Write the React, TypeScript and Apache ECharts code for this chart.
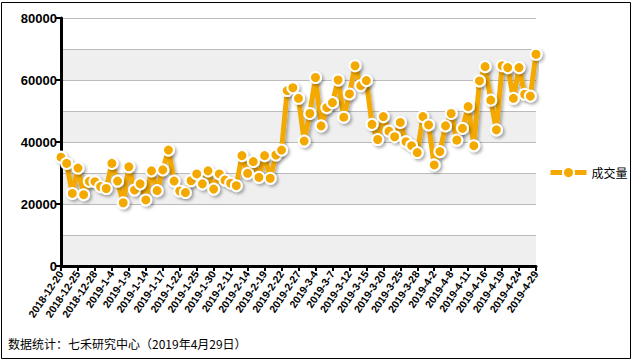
import React, { useEffect, useRef } from "react";
import * as echarts from "echarts";

const categories: string[] = [
  "2018-12-20", "2018-12-21", "2018-12-24", "2018-12-25", "2018-12-26", "2018-12-27", "2018-12-28",
  "2019-1-2", "2019-1-3", "2019-1-4", "2019-1-7", "2019-1-8", "2019-1-9", "2019-1-10", "2019-1-11",
  "2019-1-14", "2019-1-15", "2019-1-16", "2019-1-17", "2019-1-18", "2019-1-21", "2019-1-22", "2019-1-23",
  "2019-1-24", "2019-1-25", "2019-1-28", "2019-1-29", "2019-1-30", "2019-1-31", "2019-2-1",
  "2019-2-11", "2019-2-12", "2019-2-13", "2019-2-14", "2019-2-15", "2019-2-18", "2019-2-19", "2019-2-20",
  "2019-2-21", "2019-2-22", "2019-2-25", "2019-2-26", "2019-2-27", "2019-2-28", "2019-3-1",
  "2019-3-4", "2019-3-5", "2019-3-6", "2019-3-7", "2019-3-8", "2019-3-11", "2019-3-12", "2019-3-13",
  "2019-3-14", "2019-3-15", "2019-3-18", "2019-3-19", "2019-3-20", "2019-3-21", "2019-3-22", "2019-3-25",
  "2019-3-26", "2019-3-27", "2019-3-28", "2019-3-29", "2019-4-1", "2019-4-2", "2019-4-3", "2019-4-4",
  "2019-4-8", "2019-4-9", "2019-4-10", "2019-4-11", "2019-4-12", "2019-4-15", "2019-4-16", "2019-4-17",
  "2019-4-18", "2019-4-19", "2019-4-22", "2019-4-23", "2019-4-24", "2019-4-25", "2019-4-26", "2019-4-29",
];

const volume: number[] = [
  35100, 33100, 23400, 31600, 23000, 27300, 27200, 25600, 25000, 33100,
  27400, 20400, 32000, 24500, 26500, 21300, 30700, 24300, 31000, 37400,
  27400, 24200, 23700, 27500, 29700, 26500, 30700, 24800, 29700, 27700,
  26700, 25900, 35600, 29900, 33700, 28600, 35600, 28300, 35800, 37400,
  56600, 57500, 54100, 40300, 49200, 60800, 45200, 51100, 52700, 60000,
  48000, 55500, 64600, 58200, 59800, 45700, 40800, 48200, 43500, 41700,
  46300, 40100, 38800, 36600, 48200, 45500, 32600, 36900, 45200, 49200,
  40600, 44400, 51400, 38800, 59700, 64300, 53500, 43900, 64600, 64000,
  54100, 64000, 55400, 54800, 68300,
];

const seriesName = "成交量";
const footnote = "数据统计：七禾研究中心（2019年4月29日）";

export default function App() {
  const ref = useRef<HTMLDivElement>(null);
  useEffect(() => {
    if (!ref.current) return;
    const chart = echarts.init(ref.current, undefined, { renderer: "svg" });
    const orange = "#F4A900";
    chart.setOption({
      animation: false,
      backgroundColor: "#fff",
      textStyle: { fontFamily: "'Liberation Sans', Arial, sans-serif" },
      grid: { left: 61, right: 98, top: 18, bottom: 97, containLabel: false },
      legend: {
        left: 543,
        top: 161,
        itemWidth: 36,
        itemHeight: 14,
        itemGap: 4,
        lineStyle: { width: 5 },
        textStyle: { fontSize: 12, color: "#000", fontFamily: "'Noto Sans CJK SC', sans-serif" },
        data: [seriesName],
      },
      xAxis: {
        type: "category",
        data: categories,
        boundaryGap: false,
        axisLine: { lineStyle: { color: "#000", width: 3 } },
        axisTick: { interval: 2, length: 5, lineStyle: { color: "#000", width: 2 } },
        axisLabel: {
          interval: 2,
          rotate: 56,
          fontSize: 10.5,
          fontWeight: "bold",
          color: "#000",
          margin: 6,
        },
        splitLine: { show: false },
      },
      yAxis: [
        {
          type: "value",
          min: 0,
          max: 80000,
          interval: 10000,
          axisLine: { show: false },
          axisTick: { show: false },
          axisLabel: { show: false },
          splitLine: { show: true, lineStyle: { color: "#bbbbbb", width: 1 } },
          splitArea: { show: true, areaStyle: { color: ["#efefef", "#ffffff"] } },
        },
        {
          type: "value",
          min: 0,
          max: 80000,
          interval: 20000,
          position: "left",
          axisLine: { show: true, lineStyle: { color: "#000", width: 3 } },
          axisTick: { show: true, length: 5, lineStyle: { color: "#000", width: 2 } },
          axisLabel: {
            fontSize: 13,
            fontWeight: "bold",
            color: "#000",
            margin: 4,
            formatter: (v: number) => String(v),
          },
          splitLine: { show: false },
        },
      ],
      series: [
        {
          name: seriesName,
          type: "line",
          yAxisIndex: 0,
          data: volume,
          symbol: "circle",
          symbolSize: 11,
          showAllSymbol: true,
          lineStyle: {
            color: orange,
            width: 5,
            shadowColor: "rgba(0,0,0,0.3)",
            shadowBlur: 3,
            shadowOffsetX: 2,
            shadowOffsetY: 3,
          },
          itemStyle: {
            color: orange,
            borderColor: "#fff",
            borderWidth: 2,
            shadowColor: "rgba(0,0,0,0.3)",
            shadowBlur: 3,
            shadowOffsetX: 2,
            shadowOffsetY: 2,
          },
        },
      ],
      graphic: [
        {
          type: "rect",
          shape: { x: 1.5, y: 2.5, width: 629, height: 356 },
          style: { fill: "none", stroke: "#000", lineWidth: 1 },
          silent: true,
        },
        {
          type: "text",
          left: 8,
          top: 337,
          style: {
            text: footnote,
            fontSize: 12,
            fill: "#000",
            fontFamily: "'Noto Sans CJK SC', sans-serif",
          },
        },
      ],
    });
    return () => chart.dispose();
  }, []);
  return (
    <div
      ref={ref}
      style={{ position: "fixed", left: 0, top: 0, width: 634, height: 363 }}
    />
  );
}
